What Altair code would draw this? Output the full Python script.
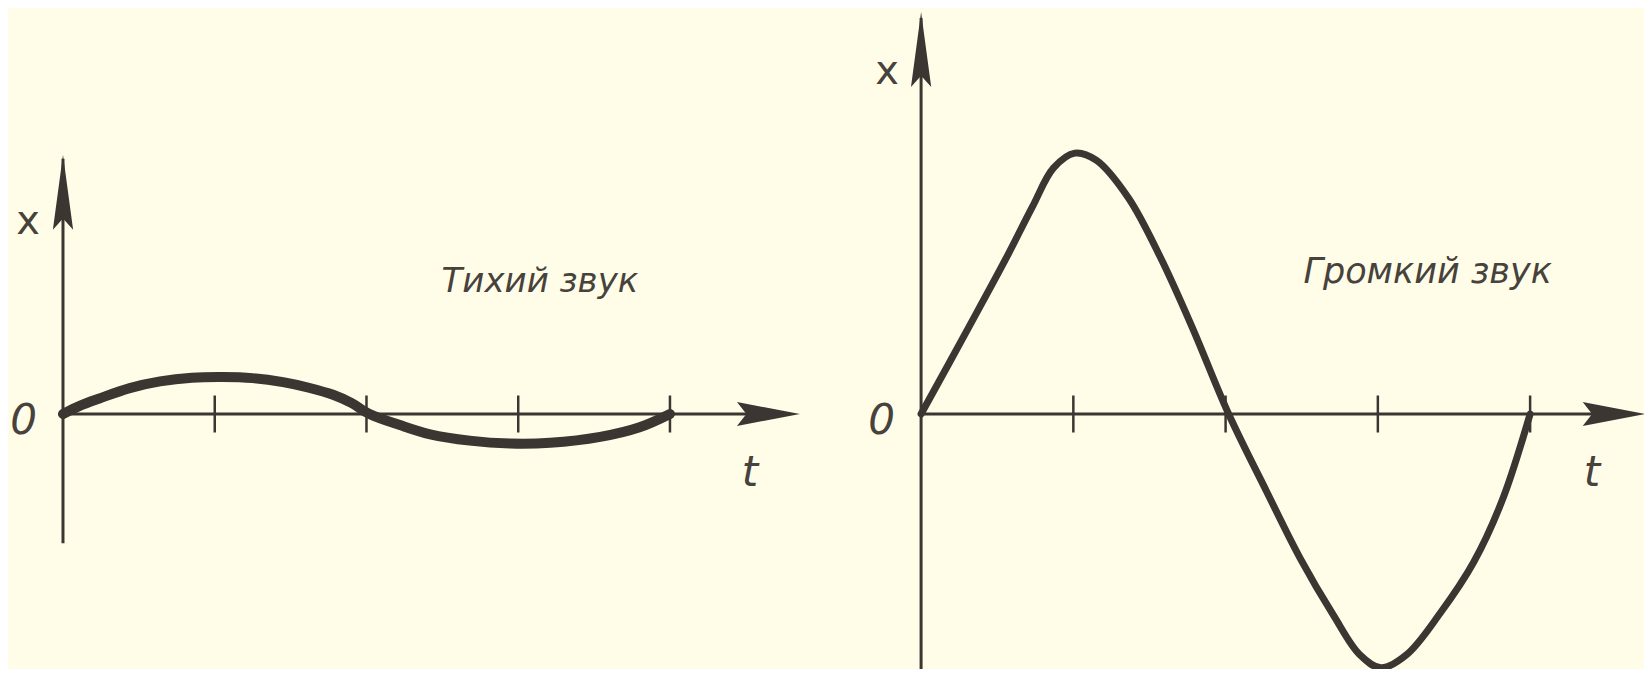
import altair as alt
import pandas as pd

# ---------------- data ----------------
# quiet sound (left panel): time in tick units, displacement
quiet_t = [0.0, 0.11, 0.24, 0.44, 0.64, 0.85, 1.05, 1.25, 1.45, 1.62, 1.78, 1.90, 2.02,
           2.22, 2.42, 2.68, 2.95, 3.21, 3.54, 3.80, 4.0]
quiet_x = [0.0, 0.22, 0.42, 0.70, 0.88, 0.98, 1.0, 0.97, 0.86, 0.71, 0.52, 0.30, 0.0,
           -0.30, -0.55, -0.72, -0.80, -0.78, -0.62, -0.36, 0.0]

# loud sound (right panel)
loud_t = [0.0, 0.31, 0.556, 0.73, 0.87, 1.01, 1.15, 1.36, 1.57, 1.78, 2.02,
          2.27, 2.49, 2.71, 2.88, 3.02, 3.19, 3.41, 3.63, 3.82, 4.0]
loud_x = [0.0, 2.32, 4.19, 5.59, 6.65, 7.05, 6.86, 5.85, 4.25, 2.35, 0.0,
          -2.1, -3.9, -5.45, -6.5, -6.86, -6.5, -5.38, -4.0, -2.3, 0.0]

tick_t = [1, 2, 3, 4]

# axis extents (data units)
quiet_taxis_end = 4.75
quiet_xaxis_range = [-3.49, 6.9]
loud_taxis_end = 4.65
loud_xaxis_range = [-7.5, 10.7]

# arrowhead centres (data units)
quiet_tarrow = 4.649
quiet_xarrow = 5.99
loud_tarrow = 4.552
loud_xarrow = 9.85

# labels (data units): "x", "0", "t"
quiet_labels_t = [-0.23, -0.26, 4.527]
quiet_labels_x = [5.19, -0.2, -1.6]
loud_labels_t = [-0.223, -0.26, 4.407]
loud_labels_x = [9.24, -0.2, -1.6]
label_texts = ["x", "0", "t"]

quiet_caption = ["Тихий звук"]
quiet_caption_t = [3.143]
quiet_caption_x = [3.30]
loud_caption = ["Громкий звук"]
loud_caption_t = [3.327]
loud_caption_x = [3.55]

# ---------------- styling / layout ----------------
INK = "#3b3631"
TEXT = "#47423c"
BG = "#fffde8"
FONT = "DejaVu Sans, sans-serif"

W, H = 1636, 661
Y_DOMAIN = [-6.892, 10.973]
QUIET_T_DOMAIN = [-0.3624, 10.419]
LOUD_T_DOMAIN = [-5.997, 4.748]

ARROW_RIGHT = "M1,0L-1,-0.38L-0.7,0L-1,0.38Z"
ARROW_UP = "M0,-1L0.27,1L0,0.7L-0.27,1Z"


def panel(c_t, c_x, c_w, t_dom, t_end, xr, t_arrow, x_arrow, x_arrow_size,
          lab_t, lab_x, cap, cap_t, cap_x, cap_size):
    xs = alt.Scale(domain=t_dom, nice=False, zero=False)
    ys = alt.Scale(domain=Y_DOMAIN, nice=False, zero=False)

    def X(f):
        return alt.X(f, type="quantitative", scale=xs, axis=None)

    def Y(f):
        return alt.Y(f, type="quantitative", scale=ys, axis=None)

    curve_df = pd.DataFrame({"t": c_t, "x": c_x, "o": list(range(len(c_t)))})
    curve = alt.Chart(curve_df).mark_line(
        color=INK, strokeWidth=c_w, interpolate="catmull-rom", strokeCap="round",
        strokeJoin="round"
    ).encode(x=X("t"), y=Y("x"), order="o:Q")

    taxis_df = pd.DataFrame({"t0": [0.0], "t1": [t_end], "x": [0.0]})
    taxis = alt.Chart(taxis_df).mark_rule(color=INK, strokeWidth=3).encode(
        x=X("t0"), x2="t1", y=Y("x"))

    xaxis_df = pd.DataFrame({"t": [0.0], "x0": [xr[0]], "x1": [xr[1]]})
    xaxis = alt.Chart(xaxis_df).mark_rule(color=INK, strokeWidth=3).encode(
        x=X("t"), y=Y("x0"), y2="x1")

    ticks_df = pd.DataFrame({"t": tick_t, "lo": [-0.5] * 4, "hi": [0.5] * 4})
    ticks = alt.Chart(ticks_df).mark_rule(color=INK, strokeWidth=2.5).encode(
        x=X("t"), y=Y("lo"), y2="hi")

    tarrow_df = pd.DataFrame({"t": [t_arrow], "x": [0.0]})
    tarrow = alt.Chart(tarrow_df).mark_point(
        shape=ARROW_RIGHT, size=3969, filled=True, color=INK, opacity=1,
        strokeWidth=0
    ).encode(x=X("t"), y=Y("x"))

    xarrow_df = pd.DataFrame({"t": [0.0], "x": [x_arrow]})
    xarrow = alt.Chart(xarrow_df).mark_point(
        shape=ARROW_UP, size=x_arrow_size, filled=True, color=INK, opacity=1,
        strokeWidth=0
    ).encode(x=X("t"), y=Y("x"))

    lab_df = pd.DataFrame({"t": lab_t, "x": lab_x, "label": label_texts})
    lab_x_mark = alt.Chart(lab_df.iloc[[0]]).mark_text(
        font=FONT, fontSize=40, color=TEXT, align="center", baseline="middle"
    ).encode(x=X("t"), y=Y("x"), text="label:N")
    lab_it = alt.Chart(lab_df.iloc[[1, 2]]).mark_text(
        font=FONT, fontSize=42, fontStyle="italic", color=TEXT, align="center",
        baseline="middle"
    ).encode(x=X("t"), y=Y("x"), text="label:N")

    cap_df = pd.DataFrame({"t": cap_t, "x": cap_x, "label": cap})
    caption = alt.Chart(cap_df).mark_text(
        font=FONT, fontSize=cap_size, fontStyle="italic", color=TEXT,
        align="center", baseline="alphabetic"
    ).encode(x=X("t"), y=Y("x"), text="label:N")

    return alt.layer(taxis, xaxis, ticks, curve, tarrow, xarrow, lab_x_mark,
                     lab_it, caption)


left = panel(quiet_t, quiet_x, 10, QUIET_T_DOMAIN, quiet_taxis_end,
             quiet_xaxis_range, quiet_tarrow, quiet_xarrow, 5625,
             quiet_labels_t, quiet_labels_x, quiet_caption, quiet_caption_t,
             quiet_caption_x, 34)
right = panel(loud_t, loud_x, 7, LOUD_T_DOMAIN, loud_taxis_end,
              loud_xaxis_range, loud_tarrow, loud_xarrow, 5625,
              loud_labels_t, loud_labels_x, loud_caption, loud_caption_t,
              loud_caption_x, 35)

chart = (
    alt.layer(left, right)
    .resolve_scale(x="independent")
    .properties(width=W, height=H, background=BG, padding=0,
                autosize=alt.AutoSizeParams(type="none"))
    .configure_view(stroke=None)
)

chart.save("out.html", embed_options={"renderer": "svg", "actions": False})
